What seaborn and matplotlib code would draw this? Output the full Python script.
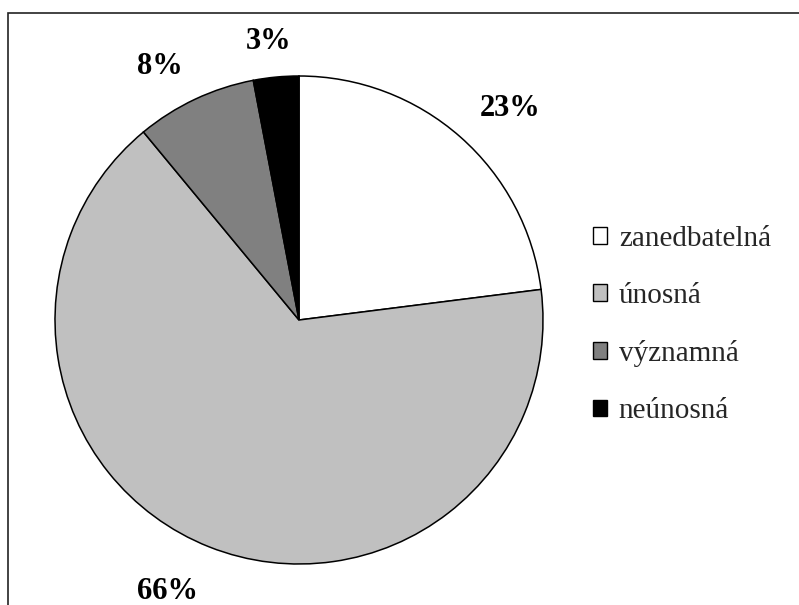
import numpy as np
import matplotlib
matplotlib.use("Agg")
import matplotlib.pyplot as plt
import seaborn as sns
from matplotlib.patches import Patch, Rectangle

sns.set_style("white")
plt.rcParams["font.family"] = ["Liberation Serif", "DejaVu Serif"]

categories = ["zanedbatelná", "únosná", "významná", "neúnosná"]
shares = [23, 66, 8, 3]
colors = ["#ffffff", "#c0c0c0", "#808080", "#000000"]

W, H = 799, 605
fig = plt.figure(figsize=(W / 100, H / 100), dpi=100)

# pie centre ~ (299, 320) px, radius ~ 244 px
cx, cy, r = 299, 320, 244
ax = fig.add_axes([(cx - r) / W, (H - cy - r) / H, 2 * r / W, 2 * r / H])

wedges, texts, autotexts = ax.pie(
    shares, colors=colors, startangle=90, counterclock=False,
    autopct="%1.0f%%", pctdistance=1.2,
    wedgeprops=dict(edgecolor="black", linewidth=1.1),
    textprops=dict(fontsize=22, fontweight="bold", color="black"),
)
ax.set_xlim(-1, 1)
ax.set_ylim(-1, 1)
ax.set_aspect("equal")
ax.axis("off")

# "outside end" labels: anchor point on the ray just beyond the rim,
# label box aligned towards the pie depending on direction
fig.canvas.draw()
renderer = fig.canvas.get_renderer()
gap = 1.12
for w, t in zip(wedges, autotexts):
    theta = np.deg2rad((w.theta1 + w.theta2) / 2)
    c, s = np.cos(theta), np.sin(theta)
    bb = t.get_window_extent(renderer)
    bw = bb.width / r
    bh = bb.height * 0.8 / r
    f = np.clip(0.45 - 1.5 * c, 0, 1)   # anchor fraction from left edge
    g = np.clip(0.5 - 1.5 * s, 0, 1)    # anchor fraction from bottom edge
    x = gap * c + (0.5 - f) * bw
    y = gap * s + (0.5 - g) * bh - 0.022
    t.set_position((x, y))
    t.set_ha("center")
    t.set_va("center")

handles = [Patch(facecolor=c, edgecolor="black", linewidth=1.0) for c in colors]
fig.legend(handles, categories, loc="center left",
           bbox_to_anchor=(578 / W, 1 - 325 / H), frameon=False,
           fontsize=21, handlelength=0.5, handleheight=0.5,
           handletextpad=0.4, labelspacing=1.07, borderpad=0)

# outer chart-area border (only top and left visible in the crop)
fig.add_artist(Rectangle((8 / W, -0.1), 1.5, 1.1 - 13 / H,
                         transform=fig.transFigure, fill=False,
                         edgecolor="#222222", linewidth=1.2))

fig.savefig("out.png", dpi=100)
